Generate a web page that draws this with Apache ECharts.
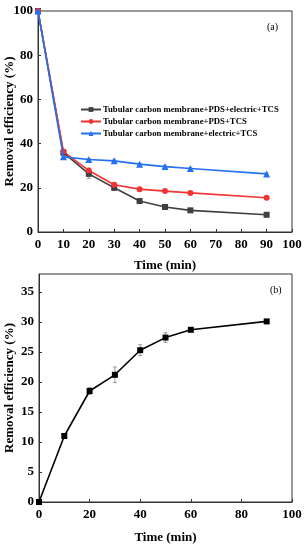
<!DOCTYPE html>
<html><head><meta charset="utf-8">
<script src="https://cdn.jsdelivr.net/npm/echarts@6/dist/echarts.min.js"></script>
<style>html,body{margin:0;padding:0;background:#fff}#c{width:305px;height:550px}</style>
</head><body><div id="c"></div>
<script>
// Panel (a)
const timeA = [0, 10, 20, 30, 40, 50, 60, 90];
const nameBlack = 'Tubular carbon membrane+PDS+electric+TCS';
const nameRed = 'Tubular carbon membrane+PDS+TCS';
const nameBlue = 'Tubular carbon membrane+electric+TCS';
const valBlack = [100, 35.9, 26.3, 20.0, 14.0, 11.3, 9.8, 7.8];
const errBlack = [0, 1.0, 2.0, 1.2, 0.6, 0.5, 0.5, 0.5];
const valRed = [100, 36.4, 27.8, 21.4, 19.4, 18.5, 17.7, 15.5];
const errRed = [0, 0.8, 1.0, 0.8, 0.5, 0.5, 0.5, 0.5];
const valBlue = [100, 34.0, 32.8, 32.2, 30.7, 29.6, 28.7, 26.3];
const errBlue = [0, 0.5, 0.5, 0.5, 0.5, 0.5, 0.5, 0.5];
// Panel (b)
const timeB = [0, 10, 20, 30, 40, 50, 60, 90];
const valB = [0, 11.0, 18.5, 21.2, 25.3, 27.4, 28.7, 30.1];
const errB = [0, 0.4, 0.6, 1.3, 0.9, 0.8, 0.3, 0.3];

const FONT = '"Liberation Serif","Times New Roman",serif';
const chart = echarts.init(document.getElementById('c'));

function pairs(x, y) { return x.map((t, i) => [t, y[i]]); }
function errSeries(x, y, e, xi, yi, color) {
  return {
    type: 'custom', xAxisIndex: xi, yAxisIndex: yi, silent: true, z: 1,
    data: x.map((t, i) => [t, y[i] - e[i], y[i] + e[i]]),
    renderItem: function (params, api) {
      const lo = api.coord([api.value(0), api.value(1)]);
      const hi = api.coord([api.value(0), api.value(2)]);
      if (Math.abs(lo[1] - hi[1]) < 0.5) return null;
      const w = 2;
      const st = { stroke: color, lineWidth: 1 };
      return { type: 'group', children: [
        { type: 'line', shape: { x1: lo[0], y1: lo[1], x2: hi[0], y2: hi[1] }, style: st },
        { type: 'line', shape: { x1: lo[0] - w, y1: lo[1], x2: lo[0] + w, y2: lo[1] }, style: st },
        { type: 'line', shape: { x1: hi[0] - w, y1: hi[1], x2: hi[0] + w, y2: hi[1] }, style: st }
      ]};
    }
  };
}
const axisLineStyle = { color: '#333', width: 1 };
const labelStyle = { color: '#000', fontFamily: FONT, fontWeight: 'bold', fontSize: 13 };
const nameStyle = { color: '#000', fontFamily: FONT, fontWeight: 'bold', fontSize: 13 };

chart.setOption({
  animation: false,
  backgroundColor: '#fff',
  grid: [
    { left: 38, right: 13, top: 11, height: 221, show: true, borderColor: '#333', borderWidth: 1, containLabel: false, outerBoundsMode: 'none' },
    { left: 39, right: 13, top: 274, height: 228, show: true, borderColor: '#333', borderWidth: 1, containLabel: false, outerBoundsMode: 'none' }
  ],
  legend: {
    data: [nameBlack, nameRed, nameBlue],
    left: 75, top: 100, orient: 'vertical', itemWidth: 20, itemHeight: 6, itemGap: 3,
    textStyle: { fontFamily: FONT, fontWeight: 'bold', fontSize: 8.7, color: '#000', padding: [0, 0, 0, -3] }
  },
  title: [
    { text: '(a)', left: 262, top: 17, textStyle: { fontFamily: FONT, fontWeight: 'normal', fontSize: 10, color: '#000' } },
    { text: '(b)', left: 265, top: 280, textStyle: { fontFamily: FONT, fontWeight: 'normal', fontSize: 10, color: '#000' } }
  ],
  xAxis: [
    { gridIndex: 0, type: 'value', min: 0, max: 100, interval: 10,
      name: 'Time (min)', nameLocation: 'middle', nameGap: 27, nameMoveOverlap: false, nameTextStyle: nameStyle,
      axisLine: { lineStyle: axisLineStyle }, axisTick: { inside: true, length: 3, lineStyle: axisLineStyle },
      axisLabel: Object.assign({ margin: 6 }, labelStyle), splitLine: { show: false } },
    { gridIndex: 1, type: 'value', min: 0, max: 100, interval: 20,
      name: 'Time (min)', nameLocation: 'middle', nameGap: 29, nameMoveOverlap: false, nameTextStyle: nameStyle,
      axisLine: { lineStyle: axisLineStyle }, axisTick: { inside: true, length: 3, lineStyle: axisLineStyle },
      axisLabel: Object.assign({ margin: 6 }, labelStyle), splitLine: { show: false } }
  ],
  yAxis: [
    { gridIndex: 0, type: 'value', min: 0, max: 100, interval: 20,
      name: 'Removal efficiency (%)', nameLocation: 'middle', nameGap: 22, nameMoveOverlap: false, nameTextStyle: nameStyle,
      axisLine: { lineStyle: axisLineStyle }, axisTick: { inside: true, length: 3, lineStyle: axisLineStyle },
      axisLabel: Object.assign({ margin: 5 }, labelStyle), splitLine: { show: false } },
    { gridIndex: 1, type: 'value', min: 0, max: 38, interval: 5,
      name: 'Removal efficiency (%)', nameLocation: 'middle', nameGap: 23, nameMoveOverlap: false, nameTextStyle: nameStyle,
      axisLine: { lineStyle: axisLineStyle }, axisTick: { inside: true, length: 3, lineStyle: axisLineStyle },
      axisLabel: Object.assign({ margin: 5, showMaxLabel: false }, labelStyle), splitLine: { show: false } }
  ],
  series: [
    errSeries(timeA, valBlack, errBlack, 0, 0, '#999'),
    errSeries(timeA, valRed, errRed, 0, 0, '#aaa'),
    errSeries(timeA, valBlue, errBlue, 0, 0, '#aaa'),
    { name: nameBlack, type: 'line', xAxisIndex: 0, yAxisIndex: 0, data: pairs(timeA, valBlack),
      symbol: 'rect', symbolSize: 6, lineStyle: { color: '#404040', width: 1.6 }, itemStyle: { color: '#404040' }, z: 3 },
    { name: nameRed, type: 'line', xAxisIndex: 0, yAxisIndex: 0, data: pairs(timeA, valRed),
      symbol: 'circle', symbolSize: 6, lineStyle: { color: '#f03434', width: 1.6 }, itemStyle: { color: '#f03434' }, z: 3 },
    { name: nameBlue, type: 'line', xAxisIndex: 0, yAxisIndex: 0, data: pairs(timeA, valBlue),
      symbol: 'triangle', symbolSize: 7, lineStyle: { color: '#2470ee', width: 1.6 }, itemStyle: { color: '#2470ee' }, z: 4 },
    errSeries(timeB, valB, errB, 1, 1, '#999'),
    { name: 'b', type: 'line', xAxisIndex: 1, yAxisIndex: 1, data: pairs(timeB, valB),
      symbol: 'rect', symbolSize: 6, lineStyle: { color: '#000', width: 1.6 }, itemStyle: { color: '#000' }, z: 3 }
  ]
});
</script></body></html>
